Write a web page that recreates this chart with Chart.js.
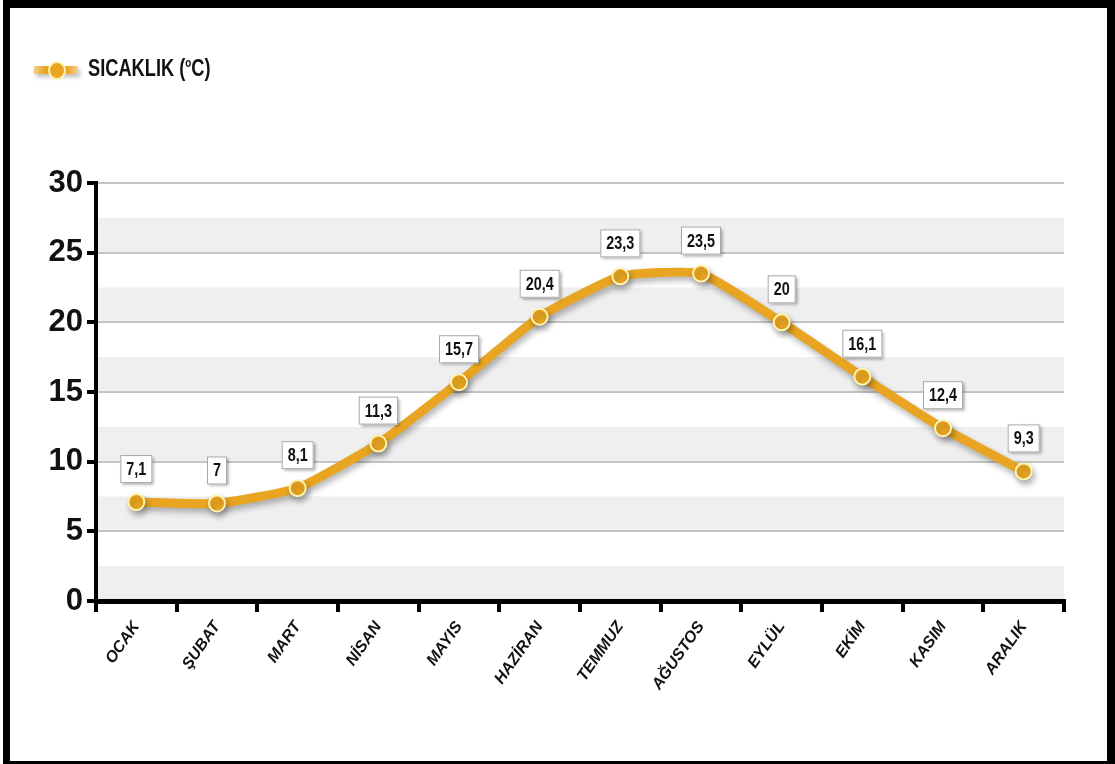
<!DOCTYPE html>
<html>
<head>
<meta charset="utf-8">
<script src="https://cdn.jsdelivr.net/npm/chart.js@4"></script>
<style>
  body { margin: 0; background: #fff; }
  #wrap { position: absolute; left: 0; top: 0; width: 1115px; height: 764px; }
  #frame {
    position: absolute; left: 3px; top: 0; width: 1097px; height: 753px;
    border-left: 7px solid #000; border-top: 8px solid #000;
    border-right: 8px solid #000; border-bottom: 3px solid #000;
    pointer-events: none;
  }
  #legend { position: absolute; left: 34px; top: 56px; height: 30px; }
  #legend .line {
    position: absolute; left: 0; top: 10px; width: 44px; height: 8px;
    background: linear-gradient(90deg, rgba(233,165,33,0.5), #e9a521 25%, #e9a521 75%, rgba(233,165,33,0.5));
    box-shadow: 2px 3px 4px rgba(0,0,0,0.25);
  }
  #legend .dot {
    position: absolute; left: 14px; top: 5px; width: 14px; height: 15px;
    border-radius: 50%; background: #e9a521; border: 2px solid #fff3b0;
  }
  #legend .txt {
    position: absolute; left: 54px; top: -2px; white-space: nowrap;
    font: bold 24px 'Liberation Sans', Arial, sans-serif; color: #111;
    transform: scaleX(0.76); transform-origin: left top;
  }
  #legend sup { font-size: 13px; }
</style>
</head>
<body>
<div id="wrap"><canvas id="c" width="1115" height="764"></canvas></div>
<div id="legend"><div class="line"></div><div class="dot"></div><div class="txt">SICAKLIK (<sup>o</sup>C)</div></div>
<div id="frame"></div>
<script>
const months = ['OCAK', 'ŞUBAT', 'MART', 'NİSAN', 'MAYIS', 'HAZİRAN', 'TEMMUZ', 'AĞUSTOS', 'EYLÜL', 'EKİM', 'KASIM', 'ARALIK']
const temps = [7.1, 7, 8.1, 11.3, 15.7, 20.4, 23.3, 23.5, 20, 16.1, 12.4, 9.3]
const yTicks = [0, 5, 10, 15, 20, 25, 30]

const orange = '#e9a521'

// gray bands between 5k and 5k+2.5
const bands = {
  id: 'bands',
  beforeDraw(chart) {
    const { ctx, chartArea } = chart
    const y = chart.scales.y
    ctx.save()
    ctx.fillStyle = '#efefef'
    for (let v = 0; v < 30; v += 5) {
      const top = y.getPixelForValue(v + 2.5)
      const bot = y.getPixelForValue(v)
      ctx.fillRect(chartArea.left, top, chartArea.right - chartArea.left, bot - top)
    }
    ctx.restore()
  }
}

const lineShadow = {
  id: 'lineShadow',
  beforeDatasetDraw(chart) {
    const ctx = chart.ctx
    ctx.save()
    ctx.shadowColor = 'rgba(0,0,0,0.3)'
    ctx.shadowBlur = 6
    ctx.shadowOffsetX = 2
    ctx.shadowOffsetY = 4
  },
  afterDatasetDraw(chart) {
    chart.ctx.restore()
  }
}

const valueBoxes = {
  id: 'valueBoxes',
  afterDatasetsDraw(chart) {
    const ctx = chart.ctx
    const meta = chart.getDatasetMeta(0)
    const sx = 0.8
    ctx.save()
    ctx.font = "bold 18px 'Liberation Sans', Arial, sans-serif"
    ctx.textAlign = 'center'
    ctx.textBaseline = 'middle'
    meta.data.forEach((pt, i) => {
      const txt = String(temps[i]).replace('.', ',')
      const w = ctx.measureText(txt).width * sx + 12
      const h = 28
      const cx = pt.x
      const cy = pt.y - 33
      ctx.save()
      ctx.shadowColor = 'rgba(0,0,0,0.35)'
      ctx.shadowBlur = 3
      ctx.shadowOffsetX = 2
      ctx.shadowOffsetY = 2
      ctx.fillStyle = '#fff'
      ctx.fillRect(cx - w / 2, cy - h / 2, w, h)
      ctx.restore()
      ctx.strokeStyle = '#a8a8a8'
      ctx.lineWidth = 1
      ctx.strokeRect(cx - w / 2 + 0.5, cy - h / 2 + 0.5, w - 1, h - 1)
      ctx.save()
      ctx.translate(cx, cy + 1)
      ctx.scale(sx, 1)
      ctx.fillStyle = '#111'
      ctx.fillText(txt, 0, 0)
      ctx.restore()
    })
    ctx.restore()
  }
}

new Chart(document.getElementById('c'), {
  type: 'line',
  data: {
    labels: months,
    datasets: [{
      label: 'SICAKLIK (°C)',
      data: temps,
      borderColor: orange,
      borderWidth: 9,
      tension: 0.15,
      pointRadius: 8,
      pointHoverRadius: 8,
      pointBackgroundColor: orange,
      pointBorderColor: '#fff3b0',
      pointBorderWidth: 2,
      fill: false
    }]
  },
  options: {
    responsive: false,
    animation: false,
    layout: { padding: { top: 183, right: 51, left: 0, bottom: 0 } },
    plugins: { legend: { display: false }, tooltip: { enabled: false } },
    scales: {
      x: {
        offset: true,
        afterFit(s) { s.height = 163 },
        border: { color: '#000', width: 5 },
        grid: { offset: true, drawOnChartArea: false, color: '#000', tickColor: '#000', tickLength: 11, lineWidth: 4 },
        ticks: {
          minRotation: 55, maxRotation: 55, padding: 6, color: '#111',
          font: { family: "'Liberation Sans', Arial, sans-serif", size: 16, weight: 'bold', style: 'italic' }
        }
      },
      y: {
        min: 0, max: 30,
        afterFit(s) { s.width = 96 },
        border: { color: '#000', width: 4 },
        grid: {
          color: '#c4c4c4', lineWidth: 2, tickLength: 9, tickWidth: 4,
          tickColor: (c) => yTicks.includes(c.tick.value) ? '#000' : 'rgba(0,0,0,0)'
        },
        ticks: {
          stepSize: 2.5, padding: 4, color: '#111',
          callback: (v) => yTicks.includes(v) ? v : '',
          font: { family: "'Liberation Sans', Arial, sans-serif", size: 31, weight: 'bold' }
        }
      }
    }
  },
  plugins: [bands, lineShadow, valueBoxes]
})
</script>
</body>
</html>
